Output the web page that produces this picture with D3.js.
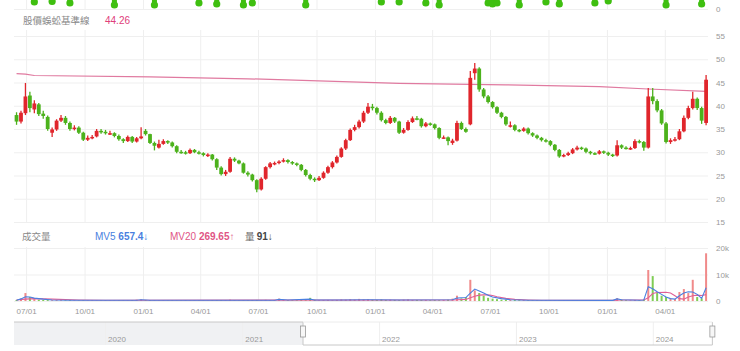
<!DOCTYPE html>
<html lang="zh-Hant">
<head>
  <meta charset="UTF-8">
  <title>股價蜈蚣基準線</title>
  <script src="https://d3js.org/d3.v7.min.js"></script>
</head>

<body style="margin:0;background:#fff">
  <div id="chart"></div>

  <style>
  svg { display: block; font-family: "Liberation Sans", Arial, sans-serif; }
  .grid line { stroke: #efefef; }
  .grid path { display: none; }
  .axis path, .axis line { display: none; }
  .axis text { fill: #999; font-size: 8px; }
  .cjk { font-family: "Noto Sans CJK TC", sans-serif; }
  </style>

  <script>

    // weekly candles, first one in the week of 2021-06-16
    var firstWeek = "2021-06-16";

    var opens = [
      38.0, 36.6, 38.4, 42.2, 39.2, 40.3, 38.3, 37.6, 34.2, 34.9,
      36.8, 37.4, 36.3, 35.0, 35.3, 34.2, 32.7, 33.1, 33.4, 34.6,
      34.4, 34.0, 34.1, 33.5, 32.8, 32.4, 33.3, 32.3, 33.0, 34.6,
      33.9, 32.0, 31.0, 31.8, 32.4, 32.1, 31.3, 30.1, 30.0, 29.8,
      30.5, 30.0, 29.8, 29.2, 29.5, 28.5, 26.7, 25.3, 25.8, 28.6,
      28.2, 27.6, 25.6, 25.2, 24.0, 22.0, 24.3, 26.8, 27.6, 27.7,
      28.0, 28.3, 27.9, 27.6, 27.3, 26.2, 25.1, 24.3, 24.0, 24.5,
      25.6, 26.8, 27.8, 29.0, 30.8, 32.6, 34.8, 35.4, 36.6, 38.5,
      39.8, 39.5, 38.5, 36.9, 36.3, 37.4, 36.6, 34.2, 34.8, 36.5,
      37.3, 37.2, 35.6, 36.2, 36.0, 35.2, 33.1, 33.2, 32.0, 32.5,
      36.3, 35.0, 36.0, 47.0, 48.0, 43.5, 42.0, 40.8, 39.7, 38.5,
      37.6, 35.5, 35.8, 34.8, 34.6, 35.1, 34.1, 33.6, 33.1, 32.6,
      32.4, 31.6, 30.5, 29.1, 29.4, 29.8, 30.6, 31.0, 30.8, 30.1,
      29.8, 29.7, 30.2, 29.9, 29.5, 29.3, 31.5, 31.0, 30.7, 30.9,
      32.4, 32.2, 31.0, 42.0, 41.0, 39.0, 36.2, 32.2, 32.6, 32.8,
      34.5, 37.4, 39.5, 41.5, 39.5, 36.3
    ];
    var highs = [
      38.6, 38.9, 44.9, 43.0, 41.2, 40.6, 38.9, 37.9, 35.3, 37.1,
      38.0, 37.8, 36.6, 35.8, 35.6, 34.4, 33.6, 33.7, 35.0, 35.0,
      34.8, 34.6, 34.3, 33.8, 33.0, 33.6, 33.5, 33.3, 35.4, 35.0,
      34.0, 32.3, 32.7, 32.8, 32.6, 32.3, 31.5, 30.5, 30.3, 30.8,
      30.7, 30.3, 30.0, 29.8, 29.6, 28.7, 27.0, 26.2, 29.0, 28.9,
      28.4, 27.8, 25.9, 25.4, 24.2, 24.6, 27.0, 27.9, 28.0, 28.3,
      28.7, 28.5, 28.1, 27.8, 27.5, 26.4, 25.4, 24.6, 24.9, 25.9,
      27.1, 28.1, 29.3, 31.1, 32.9, 35.1, 35.9, 37.0, 38.9, 40.6,
      40.4, 39.8, 38.8, 37.2, 37.8, 37.6, 36.8, 35.2, 36.9, 37.7,
      37.8, 37.4, 36.5, 36.4, 36.2, 35.4, 33.6, 33.4, 32.9, 36.8,
      36.6, 35.3, 47.5, 49.2, 48.3, 43.8, 42.3, 41.0, 39.9, 38.7,
      37.8, 36.6, 36.0, 35.0, 35.4, 35.3, 34.3, 33.8, 33.3, 32.9,
      32.6, 31.8, 30.7, 29.7, 30.1, 30.9, 31.4, 31.2, 31.0, 30.3,
      30.0, 30.5, 30.4, 30.1, 29.7, 32.6, 31.7, 31.3, 31.2, 32.8,
      32.7, 32.4, 43.8, 43.8, 41.4, 39.3, 36.5, 33.0, 33.3, 35.0,
      37.9, 40.0, 43.0, 41.8, 39.8, 46.6
    ];
    var lows = [
      35.9, 36.2, 38.0, 38.6, 38.4, 37.8, 37.2, 34.6, 33.3, 34.6,
      36.5, 35.9, 34.6, 34.7, 33.9, 32.4, 32.4, 32.8, 33.2, 34.0,
      33.8, 33.7, 33.2, 32.5, 32.0, 32.2, 32.0, 32.1, 32.8, 33.6,
      31.8, 30.4, 30.8, 31.6, 31.8, 31.0, 29.8, 29.7, 29.5, 29.6,
      29.8, 29.5, 29.1, 29.0, 28.2, 26.2, 25.0, 24.9, 25.6, 27.9,
      27.4, 25.4, 24.8, 23.7, 21.4, 21.8, 24.1, 26.5, 27.2, 27.4,
      27.8, 27.6, 27.3, 27.0, 25.9, 24.8, 24.0, 23.6, 23.8, 24.3,
      25.4, 26.5, 27.6, 28.8, 30.5, 32.4, 34.5, 35.1, 36.3, 38.2,
      39.0, 38.1, 36.6, 36.0, 36.1, 36.3, 33.9, 34.0, 34.6, 36.3,
      36.9, 35.3, 35.4, 35.7, 34.9, 32.8, 32.9, 31.5, 31.6, 32.3,
      34.8, 34.2, 35.8, 45.6, 43.0, 41.6, 40.5, 39.4, 38.2, 37.3,
      35.7, 35.3, 34.5, 34.3, 34.4, 33.8, 33.3, 32.8, 32.3, 32.1,
      31.3, 30.2, 28.8, 28.9, 29.2, 29.6, 30.4, 30.5, 29.8, 29.5,
      29.4, 29.5, 29.6, 29.2, 29.0, 29.1, 30.7, 30.6, 30.5, 30.7,
      31.9, 30.3, 30.8, 40.3, 38.6, 35.9, 31.9, 31.8, 32.3, 32.6,
      34.3, 37.1, 39.2, 39.1, 36.1, 35.8
    ];
    var closes = [
      36.6, 38.5, 42.0, 39.5, 40.5, 38.2, 37.8, 35.0, 34.9, 36.8,
      37.4, 36.3, 35.0, 35.3, 34.2, 32.7, 33.1, 33.3, 34.6, 34.4,
      34.2, 34.1, 33.5, 32.8, 32.4, 33.3, 32.3, 33.0, 33.4, 33.9,
      32.0, 31.4, 31.8, 32.4, 32.1, 31.3, 30.1, 30.0, 29.8, 30.5,
      30.0, 29.8, 29.4, 29.5, 28.5, 26.7, 25.3, 25.8, 28.6, 28.2,
      27.6, 25.6, 25.2, 24.0, 22.0, 24.3, 26.8, 27.6, 27.7, 28.0,
      28.3, 27.9, 27.6, 27.3, 26.2, 25.1, 24.3, 24.0, 24.5, 25.6,
      26.8, 27.8, 29.0, 30.8, 32.6, 34.8, 35.4, 36.6, 38.5, 39.8,
      39.5, 38.5, 36.9, 36.3, 37.4, 36.6, 34.2, 34.8, 36.5, 37.3,
      37.2, 35.6, 36.2, 36.0, 35.2, 33.1, 33.2, 32.4, 32.5, 36.3,
      35.0, 34.4, 46.0, 48.0, 43.5, 42.0, 40.8, 39.7, 38.5, 37.6,
      36.0, 35.8, 34.8, 34.6, 35.1, 34.1, 33.6, 33.1, 32.6, 32.4,
      31.6, 30.5, 29.1, 29.4, 29.8, 30.6, 31.0, 30.8, 30.1, 29.8,
      29.7, 30.2, 29.9, 29.5, 29.3, 31.5, 31.0, 30.9, 30.9, 32.4,
      32.2, 31.0, 42.0, 41.0, 39.0, 36.2, 32.2, 32.6, 32.8, 34.5,
      37.4, 39.5, 41.5, 39.5, 36.8, 45.6
    ];
    var volumes = [
      400, 900, 3000, 1500, 700, 500, 400, 350, 300, 350,
      300, 250, 300, 250, 200, 250, 200, 250, 200, 200,
      250, 200, 200, 250, 200, 250, 300, 500, 600, 400,
      300, 250, 300, 250, 200, 250, 200, 200, 250, 200,
      200, 250, 200, 200, 250, 300, 350, 300, 500, 300,
      250, 250, 300, 350, 400, 300, 450, 300, 400, 900,
      400, 300, 300, 300, 350, 300, 1200, 500, 300, 350,
      400, 300, 400, 600, 500, 700, 500, 800, 600, 700,
      500, 400, 600, 400, 500, 400, 350, 500, 600, 400,
      400, 350, 400, 300, 350, 300, 400, 500, 900, 2000,
      1000, 1500, 8000, 4000, 3000, 2000, 1200, 900, 700, 500,
      500, 400, 350, 300, 350, 300, 250, 250, 300, 250,
      250, 250, 300, 250, 200, 250, 200, 200, 250, 200,
      200, 250, 200, 200, 250, 1100, 500, 300, 250, 400,
      350, 500, 11700, 9400, 3000, 2000, 1500, 1000, 800, 3400,
      4500, 3000, 8000, 1500, 1000, 18000
    ];

    // [week index, value]
    var mv5Points = [[0,300],[1,800],[2,1600],[3,1500],[4,1100],[6,700],[8,400],[12,300],
      [27,300],[28,450],[30,300],[58,300],[59,600],[61,350],[66,700],[67,400],[73,400],
      [79,500],[86,400],[98,500],[99,1100],[100,1200],[101,1300],[102,3000],[103,4500],
      [104,3800],[105,3000],[106,2200],[107,1500],[109,900],[111,500],[115,300],[134,250],
      [135,800],[136,500],[140,300],[141,400],[142,5400],[143,4600],[144,3500],[145,2500],
      [146,1500],[147,900],[148,700],[149,2000],[150,3000],[151,3500],[152,3400],[153,2500],
      [154,1000],[155,5000]];
    var mv20Points = [[0,400],[2,700],[4,900],[8,700],[14,400],[20,300],[98,350],[101,600],
      [102,1200],[103,1800],[104,2200],[105,2300],[106,2300],[107,2100],[108,1600],[110,1000],
      [112,600],[115,400],[118,300],[134,250],[136,400],[140,350],[141,400],[142,1200],
      [143,2800],[144,3200],[146,3300],[147,3000],[148,2000],[149,900],[150,700],[151,1500],
      [152,2000],[153,2200],[154,2100],[155,2400]];
    var basePoints = [[0,46.9],[2,46.8],[4,46.5],[30,46.2],[52,45.8],[86,44.8],[110,44.5],
      [131,44.1],[142,43.6],[155,43.1]];
    // bottom ends of the panel above (cut off)
    var topMarks = [[4,5],[8,5.5],[12,4],[22,2],[31,2],[41,4],[45,3],[51,2],[53,4],[65,2],
      [82,5],[86,5],[92,4],[95,2],[106,4],[107,3],[108,4],[113,2],[119,5],[122,3],[130,4],
      [133,6],[146,2],[154,3]];

    var baseValue = "44.26";
    var priceTicks = [15, 20, 25, 30, 35, 40, 45, 50, 55];
    var volTicks = [0, 10000, 20000];
    var volTickLabels = ["0", "10k", "20k"];

    var red = "#e0262c", green = "#4cb21c";

    var parse = d3.timeParse("%Y-%m-%d");
    var week0 = parse(firstWeek);
    var weekDates = opens.map(function(d, i) { return d3.timeDay.offset(week0, 7 * i); });
    var idx = d3.range(opens.length);

    var svg = d3.select("#chart").append("svg")
        .attr("width", 740)
        .attr("height", 351);

    var x = d3.scaleTime()
        .domain([parse("2021-06-12"), parse("2024-06-08")])
        .range([14, 708]);
    var yPrice = d3.scaleLinear().domain([15, 55]).range([222, 36]);
    var yVol = d3.scaleLinear().domain([0, 20000]).range([301, 248]);
    var yTop = d3.scaleLinear().domain([0, 9]).range([9, 0]);

    var quarters = x.ticks(d3.timeMonth.every(3));

    // GRIDS
    function vgrid(top, bottom) {
      svg.append("g").attr("class", "grid")
        .attr("transform", "translate(0," + top + ")")
        .call(d3.axisBottom(x).tickValues(quarters).tickFormat("").tickSize(bottom - top));
    }
    vgrid(0, 9);
    vgrid(30, 222);
    vgrid(247, 301);

    svg.append("g").attr("class", "grid")
      .attr("transform", "translate(14,0)")
      .call(d3.axisRight(yPrice).tickValues(priceTicks).tickFormat("").tickSize(694));
    svg.append("g").attr("class", "grid")
      .attr("transform", "translate(14,0)")
      .call(d3.axisRight(yVol).tickValues(volTicks).tickFormat("").tickSize(694));
    svg.append("g").attr("class", "grid")
      .attr("transform", "translate(14,0)")
      .call(d3.axisRight(yTop).tickValues([0]).tickFormat("").tickSize(694));

    // AXES
    svg.append("g").attr("class", "axis")
      .attr("transform", "translate(708,0)")
      .call(d3.axisRight(yTop).tickValues([0]).tickSize(0).tickPadding(8));
    svg.append("g").attr("class", "axis")
      .attr("transform", "translate(708,0)")
      .call(d3.axisRight(yPrice).tickValues(priceTicks).tickSize(0).tickPadding(8));
    svg.append("g").attr("class", "axis")
      .attr("transform", "translate(708,0)")
      .call(d3.axisRight(yVol).tickValues(volTicks)
        .tickFormat(function(d, i) { return volTickLabels[i]; })
        .tickSize(0).tickPadding(8));
    svg.append("g").attr("class", "axis")
      .attr("transform", "translate(0,305)")
      .call(d3.axisBottom(x).tickValues(quarters).tickFormat(d3.timeFormat("%m/%d")).tickSize(0).tickPadding(3));

    // TOP STRIP
    var topG = svg.append("g").attr("fill", "#3fbf10").attr("stroke", "#3fbf10");
    topG.selectAll("line").data(topMarks).join("line")
      .attr("x1", function(d) { return x(weekDates[d[0]]); })
      .attr("x2", function(d) { return x(weekDates[d[0]]); })
      .attr("y1", -4)
      .attr("y2", function(d) { return yTop(d[1]) - 1.5; })
      .attr("stroke-width", 5)
      .attr("stroke-linecap", "round");
    topG.selectAll("circle").data(topMarks).join("circle")
      .attr("cx", function(d) { return x(weekDates[d[0]]); })
      .attr("cy", function(d) { return yTop(d[1]) - 2; })
      .attr("r", 3.6)
      .attr("stroke", "none");

    // LEGENDS
    var leg1 = svg.append("text").attr("x", 23).attr("y", 24).attr("font-size", 9.5);
    leg1.append("tspan").attr("class", "cjk").attr("fill", "#888").text("股價蜈蚣基準線");
    leg1.append("tspan").attr("x", 105).attr("fill", "#e0407a").attr("font-size", 10).text(baseValue);

    var leg2 = svg.append("text").attr("y", 240).attr("font-size", 9.5);
    leg2.append("tspan").attr("x", 22).attr("class", "cjk").attr("fill", "#888").text("成交量");
    leg2.append("tspan").attr("x", 95).attr("fill", "#4a7fe0").attr("font-size", 10).text("MV5 ");
    leg2.append("tspan").attr("fill", "#4a7fe0").attr("font-size", 10).attr("font-weight", "bold").text("657.4↓");
    leg2.append("tspan").attr("x", 170).attr("fill", "#e05585").attr("font-size", 10).text("MV20 ");
    leg2.append("tspan").attr("fill", "#e05585").attr("font-size", 10).attr("font-weight", "bold").text("269.65↑");
    leg2.append("tspan").attr("x", 245).attr("class", "cjk").attr("fill", "#666").text("量 ");
    leg2.append("tspan").attr("fill", "#444").attr("font-size", 10).attr("font-weight", "bold").text("91↓");

    // BASE LINE
    var baseLine = d3.line()
      .x(function(d) { return x(weekDates[d[0]]); })
      .y(function(d) { return yPrice(d[1]); });
    svg.append("path")
      .attr("d", baseLine(basePoints))
      .attr("fill", "none")
      .attr("stroke", "#e07aa0")
      .attr("stroke-width", 1.2);

    // CANDLES
    function col(i) { return closes[i] >= opens[i] ? red : green; }
    var cg = svg.append("g");
    cg.selectAll("line").data(idx).join("line")
      .attr("x1", function(i) { return x(weekDates[i]); })
      .attr("x2", function(i) { return x(weekDates[i]); })
      .attr("y1", function(i) { return yPrice(highs[i]); })
      .attr("y2", function(i) { return yPrice(lows[i]); })
      .attr("stroke", col)
      .attr("stroke-width", 1.3);
    cg.selectAll("rect").data(idx).join("rect")
      .attr("x", function(i) { return x(weekDates[i]) - 1.9; })
      .attr("width", 3.8)
      .attr("y", function(i) { return yPrice(Math.max(opens[i], closes[i])); })
      .attr("height", function(i) {
        return Math.max(1.5, Math.abs(yPrice(opens[i]) - yPrice(closes[i])));
      })
      .attr("fill", col);

    // VOLUME
    svg.append("g").selectAll("rect").data(idx).join("rect")
      .attr("x", function(i) { return x(weekDates[i]) - 1; })
      .attr("width", 2)
      .attr("y", function(i) { return yVol(volumes[i]); })
      .attr("height", function(i) { return yVol(0) - yVol(volumes[i]); })
      .attr("fill", function(i) { return closes[i] >= opens[i] ? "#f08a8a" : "#7fcc55"; });

    var volLine = d3.line()
      .x(function(d) { return x(weekDates[d[0]]); })
      .y(function(d) { return yVol(d[1]); });
    svg.append("path").attr("d", volLine(mv20Points))
      .attr("fill", "none").attr("stroke", "#e05f95").attr("stroke-width", 1.1);
    svg.append("path").attr("d", volLine(mv5Points))
      .attr("fill", "none").attr("stroke", "#4a7fe0").attr("stroke-width", 1.1);

    // NAVIGATOR
    var nav = d3.scaleTime()
      .domain([parse("2019-05-03"), parse("2024-06-07")])
      .range([14, 712]);
    var selStart = x.domain()[0], selEnd = x.domain()[1];
    var navTop = 322, navBottom = 345;

    svg.append("rect")
      .attr("x", nav.range()[0]).attr("y", navTop)
      .attr("width", nav(selStart) - nav.range()[0]).attr("height", navBottom - navTop)
      .attr("fill", "#f0f1f3");
    svg.append("g").attr("class", "grid")
      .attr("transform", "translate(0," + navTop + ")")
      .call(d3.axisBottom(nav).ticks(d3.timeYear).tickFormat("").tickSize(navBottom - navTop));
    svg.append("g").selectAll("text").data(nav.ticks(d3.timeYear)).join("text")
      .attr("x", function(d) { return nav(d) + 3; })
      .attr("y", 342)
      .attr("font-size", 8)
      .attr("fill", "#999")
      .text(d3.timeFormat("%Y"));
    svg.append("path")
      .attr("d", "M" + nav.range()[0] + "," + navTop + "H" + nav(selStart) + "V" + navBottom
        + "H" + nav(selEnd) + "V" + navTop)
      .attr("fill", "none")
      .attr("stroke", "#c8c8c8");
    svg.append("line")
      .attr("x1", nav(selStart)).attr("x2", nav(selEnd))
      .attr("y1", navTop).attr("y2", navTop)
      .attr("stroke", "#ececec");
    svg.append("g").selectAll("rect").data([selStart, selEnd]).join("rect")
      .attr("x", function(d) { return nav(d) - 2.5; })
      .attr("y", 326)
      .attr("width", 5)
      .attr("height", 11)
      .attr("fill", "#f7f7f7")
      .attr("stroke", "#999")
      .attr("stroke-width", 0.8);

  </script>
</body>
</html>
